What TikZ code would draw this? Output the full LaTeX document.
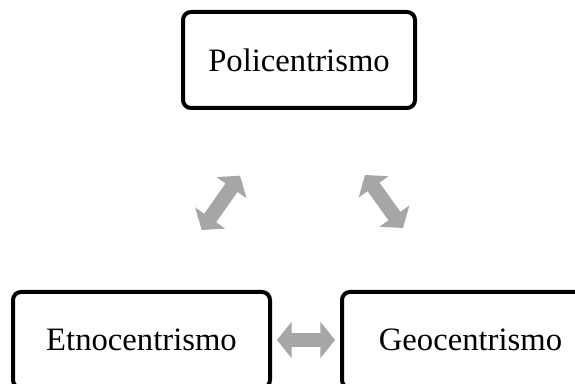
\documentclass[tikz,border=0pt]{standalone}
\usepackage{fontspec}
\setmainfont{Liberation Serif}
\usetikzlibrary{arrows.meta}
\definecolor{arrowgray}{RGB}{166,166,166}
\tikzset{
  concept/.style = {draw, line width = 3pt, rounded corners = 6pt, minimum height = 72pt},
  dblarrow/.style = {arrowgray, line width = 11pt, {Triangle[width = 27pt, length = 11pt]}-{Triangle[width = 27pt, length = 11pt]}}
}

\begin{document}
\begin{tikzpicture}[x = 0.75pt, y = -0.75pt, font = {\fontsize{24.5pt}{29}\selectfont}]
\useasboundingbox (0,0) rectangle (575,384);

\node[concept, minimum width = 174pt] (POLI) at (299, 60) {Policentrismo};
\node[concept, minimum width = 192.75pt] (ETNO) at (141.5, 340) {Etnocentrismo};
\node[concept, minimum width = 192.75pt] (GEO) at (470.5, 340) {Geocentrismo};

\coordinate (ETNO-Tip) at (201.7, 230);
\coordinate (POLI-TipL) at (240, 175.7);
\coordinate (POLI-TipR) at (365, 175);
\coordinate (GEO-Tip) at (403, 228);

\draw[dblarrow] (ETNO-Tip) -- (POLI-TipL);
\draw[dblarrow] (POLI-TipR) -- (GEO-Tip);
\draw[dblarrow, shorten <= 3.75pt, shorten >= 3.75pt] (ETNO) -- (GEO);
\end{tikzpicture}
\end{document}
